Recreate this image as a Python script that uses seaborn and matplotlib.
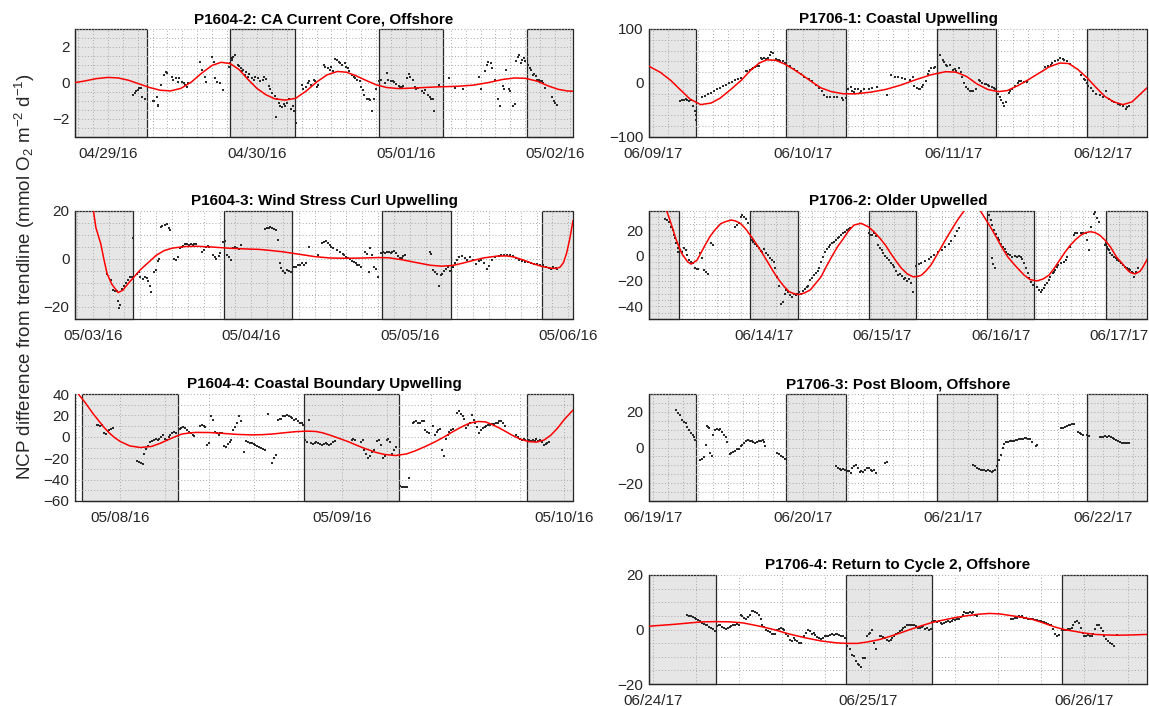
import matplotlib
matplotlib.use("Agg")
import matplotlib.pyplot as plt
import pandas as pd
import seaborn as sns
from matplotlib.ticker import MultipleLocator, FixedLocator, FixedFormatter

sns.set_style("white")
plt.rcParams['font.family'] = ['Liberation Sans', 'DejaVu Sans']
plt.rcParams['mathtext.fontset'] = 'custom'
plt.rcParams['mathtext.rm'] = 'Liberation Sans'
plt.rcParams['mathtext.it'] = 'Liberation Sans:italic'

# ---------------------------------------------------------------------------
# Data: time in days from the first labelled date, NCP anomaly in mmol O2 m-2 d-1
# ---------------------------------------------------------------------------

# P1604-2
p1604_2_dates = ["04/29/16", "04/30/16", "05/01/16", "05/02/16"]
p1604_2_nights = [(-0.22, 0.26), (0.818, 1.257), (1.817, 2.249), (2.814, 3.12)]
p1604_2_obs = [
    (0.17, -0.64), (0.18, -0.55), (0.19, -0.45), (0.20, -0.38), (0.21, -0.30), (0.22, -0.26),
    (0.23, -0.80), (0.25, -0.90), (0.30, -1.00), (0.31, -1.02), (0.33, -0.75), (0.335, -1.20),
    (0.34, -1.30), (0.36, -0.10), (0.38, 0.45), (0.39, 0.62), (0.40, 0.56), (0.43, 0.34),
    (0.44, 0.18), (0.46, 0.29), (0.47, 0.07), (0.48, 0.29), (0.50, 0.07), (0.51, 0.00),
    (0.52, -0.10), (0.53, -0.20), (0.54, 0.00), (0.62, 1.16), (0.63, 0.73), (0.65, 0.34),
    (0.66, 0.07), (0.70, 1.43), (0.71, 1.16), (0.72, 0.29), (0.73, 0.07), (0.75, 0.00),
    (0.77, -0.37), (0.81, 0.90), (0.82, 1.10), (0.83, 1.27), (0.835, 1.38), (0.84, 1.43),
    (0.85, 1.55), (0.87, 1.00), (0.88, 0.95), (0.89, 0.85), (0.90, 0.64), (0.91, 0.75),
    (0.92, 0.45), (0.93, 0.60), (0.94, 0.36), (0.95, 0.50), (0.97, 0.27), (0.98, 0.18),
    (0.99, 0.35), (1.01, 0.30), (1.02, 0.10), (1.04, 0.18), (1.05, 0.36), (1.06, 0.20),
    (1.08, -0.18), (1.09, -0.36), (1.10, -0.55), (1.12, -0.73), (1.13, -1.90), (1.135, -0.90),
    (1.145, -1.10), (1.155, -1.27), (1.165, -1.36), (1.18, -1.18), (1.19, -1.27), (1.20, -1.10),
    (1.215, -0.90), (1.23, -1.45), (1.24, -1.27), (1.25, -1.55), (1.265, -2.20),
    (1.30, -0.09), (1.31, -0.33), (1.33, -0.22), (1.34, 0.00), (1.35, 0.09), (1.36, -0.09),
    (1.38, 0.18), (1.39, 0.09), (1.40, -0.22), (1.41, -0.09), (1.45, 1.00), (1.46, 0.90),
    (1.48, 0.82), (1.49, 0.73), (1.50, 0.90), (1.51, 0.64), (1.525, 1.36), (1.54, 1.27),
    (1.55, 1.18), (1.56, 1.10), (1.57, 1.00), (1.59, 1.10), (1.60, 0.90), (1.61, 0.82),
    (1.62, 0.64), (1.64, 0.45), (1.65, 0.36), (1.66, 0.27), (1.67, 0.18), (1.69, 0.09),
    (1.70, -0.22), (1.71, -0.40), (1.72, -0.64), (1.74, -0.87), (1.75, -0.90), (1.76, -0.95),
    (1.77, -1.55), (1.785, -0.90), (1.80, -0.36),
    (1.82, 0.09), (1.835, 0.18), (1.86, 0.00), (1.87, 0.58), (1.88, 0.18), (1.90, 0.09),
    (1.91, 0.09), (1.92, 0.04), (1.93, -0.04), (1.95, -0.15), (1.96, -0.22), (1.97, -0.22),
    (1.98, -0.15), (2.01, 0.27), (2.02, 0.51), (2.03, 0.36), (2.05, 0.18), (2.06, -0.22),
    (2.07, -0.36), (2.08, -0.27), (2.11, -0.45), (2.12, -0.58), (2.13, -0.40), (2.145, -0.64),
    (2.16, -0.76), (2.17, -0.87), (2.18, -0.90), (2.19, -1.55), (2.22, -0.09),
    (2.29, 0.27), (2.33, -0.27), (2.38, -0.36), (2.49, 0.33), (2.50, -0.36), (2.53, 0.64),
    (2.54, 1.00), (2.55, 1.18), (2.57, 1.10), (2.58, 0.82), (2.60, 0.18), (2.62, -0.90),
    (2.63, -1.30), (2.65, -0.18), (2.66, -0.36), (2.67, 0.73), (2.69, -0.36), (2.70, -0.45),
    (2.72, -1.27), (2.73, -1.18), (2.74, 1.20), (2.75, 1.45), (2.76, 1.55), (2.77, 1.10),
    (2.78, 1.30), (2.79, 1.38), (2.80, 1.20), (2.82, 1.00), (2.83, 0.85), (2.84, 0.73),
    (2.85, 0.45), (2.86, 0.50), (2.87, 0.40), (2.88, 0.18), (2.89, 0.15), (2.90, 0.10),
    (2.91, 0.10), (2.92, 0.00), (2.93, -0.26), (2.98, -0.80), (2.99, -1.00), (3.00, -1.10),
    (3.01, -1.20),
]
p1604_2_fit = [
    (-0.22, 0.02), (-0.15, 0.12), (-0.08, 0.24), (0.0, 0.31), (0.07, 0.28), (0.14, 0.15),
    (0.21, -0.05), (0.28, -0.25), (0.35, -0.40), (0.42, -0.44), (0.49, -0.30), (0.56, 0.05),
    (0.63, 0.55), (0.70, 0.98), (0.76, 1.15), (0.82, 1.08), (0.88, 0.75), (0.94, 0.20),
    (1.0, -0.30), (1.06, -0.65), (1.12, -0.88), (1.19, -0.95), (1.26, -0.85), (1.33, -0.45),
    (1.40, 0.05), (1.47, 0.45), (1.54, 0.64), (1.60, 0.60), (1.66, 0.42), (1.73, 0.15),
    (1.80, -0.10), (1.87, -0.25), (1.95, -0.31), (2.05, -0.28), (2.20, -0.22), (2.35, -0.18),
    (2.45, -0.12), (2.55, 0.02), (2.65, 0.20), (2.73, 0.28), (2.80, 0.26), (2.88, 0.10),
    (2.95, -0.15), (3.02, -0.35), (3.08, -0.44), (3.12, -0.46),
]

# P1706-1
p1706_1_dates = ["06/09/17", "06/10/17", "06/11/17", "06/12/17"]
p1706_1_nights = [(-0.024, 0.288), (0.89, 1.285), (1.89, 2.285), (2.89, 3.29)]
p1706_1_obs = [
    (0.18, -33), (0.195, -31), (0.21, -32), (0.22, -29), (0.23, -31), (0.24, -34), (0.256, -31),
    (0.27, -43), (0.28, -52), (0.29, -69), (0.292, -59),
    (0.33, -26), (0.35, -24), (0.37, -21), (0.39, -18), (0.41, -15), (0.43, -12), (0.45, -9),
    (0.47, -6), (0.49, -3), (0.51, 0), (0.53, 2), (0.55, 5), (0.57, 7), (0.59, 9),
    (0.62, 22), (0.63, 23), (0.65, 25), (0.66, 26), (0.67, 28), (0.68, 29), (0.695, 31), (0.71, 32),
    (0.72, 46), (0.73, 45), (0.74, 46), (0.756, 44), (0.77, 46), (0.78, 52), (0.79, 57), (0.80, 56),
    (0.82, 44), (0.83, 43), (0.84, 43), (0.85, 41), (0.87, 40), (0.88, 37),
    (0.89, 36), (0.915, 31), (0.94, 26), (0.96, 22), (0.99, 17), (1.01, 12), (1.04, 7), (1.06, 3),
    (1.085, -3), (1.11, -9), (1.13, -15), (1.14, -23), (1.16, -26), (1.18, -25), (1.21, -25),
    (1.23, -26), (1.26, -28), (1.27, -31), (1.285, -28),
    (1.30, -11), (1.32, -7), (1.33, -14), (1.34, -17), (1.35, -11), (1.37, -12), (1.38, -19),
    (1.39, -14), (1.41, -12), (1.44, -11), (1.46, -9), (1.49, -7), (1.56, -22), (1.585, 14),
    (1.61, 12), (1.63, 11), (1.66, 10), (1.68, 8), (1.71, 6), (1.73, 11), (1.74, -5), (1.76, -9),
    (1.77, -11), (1.78, -11), (1.79, -7), (1.80, -3), (1.82, 3), (1.83, 17), (1.84, 23),
    (1.85, 28), (1.87, 28), (1.88, 30),
    (1.915, 52), (1.93, 43), (1.94, 38), (1.95, 34), (1.96, 31), (1.98, 34), (2.0, 25), (2.01, 26),
    (2.02, 23), (2.04, 28), (2.05, 20), (2.06, 12), (2.07, 0), (2.085, -7), (2.10, -12),
    (2.11, -14), (2.12, -15), (2.13, -14), (2.15, -11), (2.17, 6), (2.18, 3), (2.195, 0),
    (2.21, -1), (2.22, -1), (2.23, -3), (2.24, -5), (2.26, -7), (2.27, -9), (2.28, -12),
    (2.30, -20), (2.31, -26), (2.32, -31), (2.33, -37), (2.34, -43), (2.35, -36), (2.37, -19),
    (2.38, -14), (2.39, -11), (2.41, -6), (2.43, 0), (2.44, 3), (2.45, 3), (2.47, 2), (2.49, 1),
    (2.61, 30), (2.63, 32), (2.65, 34), (2.66, 37), (2.68, 40), (2.70, 43), (2.71, 46),
    (2.73, 44), (2.74, 43), (2.76, 40), (2.78, 36),
    (2.85, 14), (2.87, 7), (2.88, 5), (2.89, 0), (2.90, -5), (2.915, -9), (2.93, -14),
    (2.95, -20), (2.98, -22), (3.0, -25), (3.02, -15), (3.04, -30), (3.06, -34), (3.07, -36),
    (3.10, -38), (3.11, -40), (3.13, -42), (3.15, -48), (3.16, -44), (3.17, -42),
]
p1706_1_fit = [
    (-0.024, 31), (0.05, 20), (0.12, 5), (0.19, -14), (0.25, -30), (0.32, -40), (0.39, -37),
    (0.45, -28), (0.52, -12), (0.59, 5), (0.65, 23), (0.71, 37), (0.76, 43), (0.82, 42),
    (0.88, 35), (0.94, 25), (1.0, 14), (1.06, 2), (1.12, -9), (1.19, -16), (1.27, -20),
    (1.35, -20), (1.45, -17), (1.55, -12), (1.65, -4), (1.75, 6), (1.85, 15), (1.95, 21),
    (2.02, 20), (2.09, 12), (2.16, -2), (2.23, -12), (2.30, -16), (2.36, -14), (2.43, -5),
    (2.50, 6), (2.57, 18), (2.64, 30), (2.71, 37), (2.77, 36), (2.83, 25), (2.89, 10),
    (2.95, -8), (3.01, -25), (3.07, -35), (3.13, -40), (3.19, -35), (3.24, -22), (3.29, -9),
]

# P1604-3
p1604_3_dates = ["05/03/16", "05/04/16", "05/05/16", "05/06/16"]
p1604_3_nights = [(-0.112, 0.252), (0.829, 1.256), (1.828, 2.26), (2.832, 3.03)]
p1604_3_obs = [
    (0.093, -6.2), (0.117, -8.7), (0.128, -13.0), (0.14, -13.5), (0.15, -13.2), (0.16, -17.6),
    (0.166, -20.3), (0.175, -19.0), (0.187, -12.5), (0.20, -11.1), (0.21, -9.8), (0.22, -8.7),
    (0.233, -7.7), (0.245, -7.3), (0.257, 8.9),
    (0.28, -6.2), (0.29, -5.4), (0.30, -7.6), (0.315, -8.4), (0.327, -7.3), (0.34, -8.1),
    (0.35, -9.3), (0.36, -11.1), (0.37, -13.9), (0.385, -5.4), (0.40, -4.5), (0.41, -0.7),
    (0.42, 0.1), (0.43, 13.3), (0.44, 13.9), (0.455, 14.3), (0.467, 14.7), (0.48, 12.9),
    (0.49, 12.0), (0.51, 0.1), (0.525, -0.4), (0.537, 1.0), (0.55, 4.4), (0.56, 5.1),
    (0.57, 5.6), (0.584, 6.2), (0.595, 6.2), (0.607, 6.0), (0.62, 6.2), (0.63, 6.0),
    (0.64, 6.2), (0.654, 6.3), (0.69, 3.0), (0.70, 3.7), (0.712, 4.8), (0.724, 5.4),
    (0.735, 5.1), (0.76, 1.6), (0.77, 0.7), (0.78, 0.1), (0.794, 1.2), (0.805, 2.3),
    (0.824, 7.0), (0.834, 7.4), (0.845, 1.6), (0.86, 0.7), (0.87, -0.4), (0.887, 4.4),
    (0.90, 5.1), (0.91, 4.5), (0.922, 4.1), (0.934, 5.8), (1.086, 12.6), (1.097, 12.8),
    (1.109, 12.9), (1.12, 13.3), (1.132, 13.0), (1.144, 12.5), (1.156, 12.2), (1.167, 7.8),
    (1.18, -1.8), (1.19, -3.8), (1.202, -4.8), (1.214, -5.9), (1.226, -4.5), (1.237, -4.8),
    (1.25, -5.6),
    (1.27, -3.4), (1.284, -3.2), (1.296, -2.6), (1.307, -2.3), (1.32, -1.8), (1.33, -2.5),
    (1.343, -1.8), (1.366, 4.8), (1.424, 1.6), (1.448, 6.5), (1.46, 7.1), (1.47, 7.3),
    (1.483, 6.7), (1.494, 6.0), (1.506, 5.1), (1.518, 4.4), (1.54, 3.7), (1.56, 3.0),
    (1.576, 2.1), (1.588, 1.6), (1.60, 1.0), (1.61, 0.4), (1.623, -0.1), (1.634, -0.8),
    (1.646, -1.4), (1.658, -1.8), (1.67, -2.3), (1.68, -2.7), (1.693, -3.2), (1.716, 3.0),
    (1.728, 2.1), (1.74, -5.5), (1.75, 4.4), (1.763, 1.6), (1.774, -3.4), (1.786, -4.3),
    (1.80, -7.6),
    (1.82, 2.6), (1.833, 2.9), (1.845, 2.7), (1.856, 3.0), (1.868, 2.9), (1.88, 2.7),
    (1.89, 3.0), (1.903, 3.2), (1.915, 2.6), (1.926, 1.2), (1.938, 0.3), (1.95, 0.5),
    (1.96, 1.2), (1.973, 1.8), (2.125, 3.0), (2.136, 2.1), (2.148, -4.5), (2.16, -5.6),
    (2.171, -6.2), (2.183, -11.4), (2.195, -6.5), (2.206, -6.2), (2.218, -4.8), (2.23, -4.0),
    (2.241, -3.4), (2.253, -4.8),
    (2.27, -3.4), (2.283, -1.8), (2.297, -0.4), (2.31, 0.7), (2.33, 1.2), (2.346, 0.3),
    (2.363, -0.4), (2.38, 0.7), (2.40, -0.4), (2.42, -2.1), (2.437, -0.7), (2.45, -0.4),
    (2.47, -1.8), (2.49, -4.0), (2.503, -2.9), (2.52, -0.4), (2.54, 0.7), (2.56, 1.2),
    (2.578, 1.6), (2.596, 1.8), (2.615, 1.8), (2.634, 1.6), (2.652, 1.2), (2.67, 0.5),
    (2.69, -0.4), (2.708, -0.8), (2.727, -1.1), (2.746, -1.4), (2.764, -1.8), (2.783, -2.1),
    (2.80, -2.2), (2.82, -2.5), (2.84, -2.7), (2.858, -3.2), (2.876, -3.8), (2.89, -4.3),
    (2.904, -3.4), (2.92, -3.8), (2.932, -4.3),
]
p1604_3_fit = [
    (0.0, 22.0), (0.02, 13.0), (0.05, 6.5), (0.07, 0.0), (0.09, -6.0), (0.12, -10.5),
    (0.16, -14.0), (0.19, -13.0), (0.22, -10.5), (0.26, -7.5), (0.30, -4.5), (0.35, -1.5),
    (0.40, 1.5), (0.45, 3.5), (0.50, 4.5), (0.58, 5.2), (0.66, 5.3), (0.75, 5.0), (0.86, 4.5),
    (0.96, 4.2), (1.05, 4.0), (1.13, 3.5), (1.20, 3.0), (1.30, 2.0), (1.40, 1.0), (1.50, 0.4),
    (1.60, 0.3), (1.70, 0.4), (1.80, 0.6), (1.87, 0.5), (1.95, -0.3), (2.05, -1.6),
    (2.13, -2.6), (2.20, -3.0), (2.27, -2.7), (2.33, -1.8), (2.40, -0.6), (2.47, 0.5),
    (2.55, 1.2), (2.61, 1.3), (2.66, 0.8), (2.72, -0.5), (2.78, -2.0), (2.84, -3.2),
    (2.90, -3.9), (2.93, -3.9), (2.95, -3.3), (2.97, -1.5), (2.99, 2.5), (3.01, 8.5),
    (3.03, 16.0),
]

# P1706-2
p1706_2_dates = ["06/14/17", "06/15/17", "06/16/17", "06/17/17"]
p1706_2_nights = [(-0.977, -0.723), (-0.118, 0.285), (0.884, 1.281), (1.883, 2.284), (2.889, 3.24)]
p1706_2_obs = [
    (-0.838, 28.4), (-0.822, 27.9), (-0.807, 26.6), (-0.79, 22.6), (-0.776, 20.0), (-0.766, 16.0),
    (-0.754, 13.4), (-0.745, 9.5), (-0.735, 5.5), (-0.73, 2.9), (-0.714, 4.2), (-0.698, 2.9),
    (-0.683, 5.5), (-0.667, 4.2), (-0.652, 0.3), (-0.636, -3.7), (-0.62, -5.0), (-0.605, -6.3),
    (-0.59, -9.5), (-0.574, -11.0), (-0.558, -10.3), (-0.543, 1.6), (-0.527, -1.6),
    (-0.512, -11.6), (-0.496, -13.2), (-0.48, -14.2), (-0.45, 9.5), (-0.434, 8.2),
    (-0.248, 22.6), (-0.233, 24.0), (-0.217, 25.8), (-0.20, 30.5), (-0.186, 31.8),
    (-0.17, 30.5), (-0.155, 28.4), (-0.14, 25.3),
    (-0.109, 12.1), (-0.093, 10.8), (-0.078, 8.9), (-0.062, 7.4), (-0.047, 5.5), (-0.031, 3.7),
    (-0.016, 2.9), (0.0, 4.7), (0.016, 1.6), (0.031, 0.0), (0.047, -1.6), (0.062, -3.2),
    (0.078, -5.0), (0.093, -9.5), (0.109, -16.8), (0.124, -24.2), (0.14, -37.9), (0.155, -36.6),
    (0.171, -30.0), (0.186, -27.4), (0.20, -28.7), (0.217, -31.3), (0.233, -32.6),
    (0.248, -30.0), (0.264, -31.3), (0.28, -30.0),
    (0.295, -28.9), (0.31, -30.0), (0.326, -27.9), (0.341, -26.3), (0.357, -24.7),
    (0.372, -24.2), (0.388, -19.5), (0.403, -17.4), (0.419, -15.5), (0.434, -13.7),
    (0.45, -12.1), (0.465, -9.5), (0.48, -5.0), (0.496, -1.1), (0.512, 2.9), (0.527, 4.7),
    (0.543, 6.8), (0.558, 8.2), (0.574, 9.5), (0.59, 10.8), (0.605, 12.1), (0.62, 13.4),
    (0.636, 14.7), (0.652, 16.0), (0.667, 17.4), (0.683, 18.7), (0.698, 20.0), (0.714, 21.0),
    (0.729, 21.8),
    (0.884, 17.4), (0.90, 15.8), (0.915, 16.0), (0.93, 17.4), (0.946, 15.3), (0.96, 8.2),
    (0.977, 5.5), (0.993, 4.2), (1.008, 1.6), (1.024, -0.5), (1.04, -2.1), (1.055, -3.7),
    (1.07, -5.8), (1.086, -7.6), (1.10, -8.9), (1.117, -12.1), (1.133, -15.0), (1.148, -14.2),
    (1.164, -16.3), (1.18, -18.4), (1.195, -17.4), (1.21, -20.0), (1.226, -18.9),
    (1.24, -21.6), (1.257, -28.7),
    (1.285, -8.0), (1.31, -7.0), (1.33, -6.0), (1.36, -4.5), (1.39, -3.0), (1.41, -1.5),
    (1.44, 0.5), (1.47, 2.5), (1.50, 4.5), (1.53, 6.5), (1.56, 9.0), (1.58, 11.5),
    (1.61, 15.0), (1.63, 19.0), (1.65, 21.5),
    (1.90, 32.0), (1.915, 28.0), (1.93, 24.0), (1.945, 20.0), (1.96, 17.0), (1.975, 14.0),
    (1.99, 12.0), (2.005, 9.0), (2.02, 7.0), (2.035, 5.0), (2.05, 2.5), (2.065, 1.0),
    (2.08, 0.0), (2.10, -1.0), (2.12, -0.5), (2.14, -1.0), (2.155, -0.5), (2.17, -1.5),
    (2.185, -3.0), (2.20, -6.0), (2.215, -10.0), (2.23, -14.0), (2.245, -18.0), (2.26, -21.0),
    (2.275, -23.0), (1.925, -2.0), (1.94, -7.0), (1.955, -10.0),
    (2.31, -24.5), (2.325, -27.2), (2.34, -28.5), (2.35, -27.2), (2.37, -25.8), (2.38, -23.2),
    (2.395, -21.9), (2.41, -19.3), (2.42, -16.7), (2.44, -14.1), (2.45, -12.8), (2.465, -11.5),
    (2.48, -8.8), (2.49, -7.5), (2.51, -6.2), (2.54, -4.9), (2.55, -3.5), (2.56, -0.9),
    (2.59, 6.9), (2.62, 16.1), (2.63, 17.4), (2.65, 17.4), (2.68, 17.4), (2.70, 17.4),
    (2.72, 18.0), (2.73, 12.2), (2.75, 4.3), (2.77, 22.7), (2.79, 33.0), (2.80, 34.5),
    (2.82, 29.3), (2.83, 26.6),
    (2.887, 8.6), (2.895, 9.5), (2.90, 6.9), (2.91, 5.0), (2.915, 4.3), (2.93, 1.7),
    (2.945, 0.5), (2.96, -0.9), (2.975, -2.0), (2.99, -3.5), (3.005, -4.5), (3.02, -6.2),
    (3.04, -7.5), (3.055, -9.0), (3.07, -10.1), (3.085, -11.0), (3.10, -11.5), (3.115, -13.0),
    (3.12, -14.1), (3.13, -16.7), (3.15, -12.7), (3.16, -10.1),
]
p1706_2_fit = [
    (-0.83, 36.0), (-0.79, 25.0), (-0.745, 12.0), (-0.70, 1.6), (-0.65, -5.0), (-0.62, -6.8),
    (-0.57, -3.7), (-0.51, 6.8), (-0.46, 15.0), (-0.42, 20.0), (-0.37, 25.0), (-0.33, 26.6),
    (-0.28, 27.9), (-0.24, 27.0), (-0.20, 25.0), (-0.155, 20.5), (-0.11, 14.7), (-0.06, 8.0),
    (-0.016, 1.6), (0.03, -5.5), (0.078, -12.9), (0.125, -19.5), (0.17, -24.7), (0.21, -28.5),
    (0.25, -30.0), (0.29, -30.8), (0.34, -29.5), (0.39, -27.0), (0.43, -22.5), (0.48, -16.8),
    (0.52, -9.5), (0.57, -1.0), (0.62, 7.0), (0.67, 13.4), (0.71, 19.0), (0.76, 24.0),
    (0.82, 25.3), (0.88, 22.6), (0.93, 18.5), (0.98, 13.4), (1.03, 7.5), (1.07, 1.6),
    (1.12, -5.0), (1.16, -10.0), (1.21, -14.5), (1.26, -16.8), (1.30, -16.5), (1.33, -15.5),
    (1.37, -12.0), (1.41, -7.6), (1.455, -0.5), (1.50, 6.8), (1.55, 15.0), (1.60, 22.6),
    (1.64, 28.5), (1.69, 35.0), (1.76, 39.0), (1.83, 35.0), (1.87, 29.0), (1.92, 21.5),
    (1.97, 13.4), (2.01, 6.5), (2.06, -1.0), (2.11, -6.5), (2.16, -11.6), (2.20, -15.5),
    (2.25, -19.0), (2.31, -20.0), (2.36, -18.5), (2.41, -15.5), (2.455, -10.0), (2.50, -3.7),
    (2.545, 2.5), (2.59, 8.0), (2.635, 12.5), (2.68, 16.0), (2.72, 18.0), (2.76, 18.7),
    (2.80, 18.0), (2.84, 16.0), (2.885, 12.0), (2.93, 6.8), (2.98, -1.0), (3.03, -6.3),
    (3.07, -11.0), (3.10, -13.5), (3.14, -14.5), (3.18, -12.5), (3.20, -10.0), (3.23, -5.0),
    (3.26, 0.0),
]

# P1604-4
p1604_4_dates = ["05/08/16", "05/09/16", "05/10/16"]
p1604_4_nights = [(-0.172, 0.258), (0.828, 1.255), (1.833, 2.04)]
p1604_4_obs = [
    (-0.108, 11.1), (-0.10, 11.1), (-0.092, 10.5), (-0.083, 11.1), (-0.075, 3.2), (-0.067, 2.2),
    (-0.058, 5.7), (-0.05, 6.3), (-0.042, 7.6), (-0.033, 7.9), (0.075, -22.9), (0.083, -23.8),
    (0.092, -24.8), (0.10, -25.4), (0.108, -16.5), (0.117, -11.4), (0.125, -8.3), (0.133, -5.1),
    (0.142, -4.1), (0.15, -3.2), (0.158, -1.9), (0.167, -3.2), (0.175, -1.6), (0.183, 0.0),
    (0.192, 1.3), (0.20, -1.6), (0.208, -3.2), (0.217, -0.6), (0.225, 1.3), (0.233, 3.2),
    (0.242, 4.4), (0.25, 3.8),
    (0.267, 7.0), (0.275, 7.9), (0.283, 8.9), (0.292, 7.9), (0.30, 6.3), (0.308, 4.4),
    (0.317, 3.2), (0.325, 1.3), (0.333, 0.6), (0.358, 10.2), (0.367, 11.1), (0.375, 10.2),
    (0.383, 9.2), (0.392, -7.9), (0.40, -5.7), (0.408, 19.0), (0.417, 15.9), (0.425, 4.8),
    (0.433, 3.2), (0.442, 1.9), (0.45, 3.8), (0.458, 3.2), (0.467, -8.3), (0.475, -9.5),
    (0.483, -6.3), (0.492, -4.8), (0.50, -3.2), (0.508, 6.3), (0.517, 9.5), (0.525, 12.7),
    (0.533, 19.0), (0.542, 15.2), (0.558, -14.0), (0.567, -3.8), (0.575, -4.4), (0.583, -5.4),
    (0.592, -6.0), (0.60, -7.0), (0.608, -7.9), (0.617, -8.9), (0.625, -9.8), (0.633, -10.5),
    (0.642, -11.4), (0.65, -12.7), (0.667, 21.3), (0.683, -24.8), (0.692, -19.7),
    (0.70, -16.8), (0.708, 15.9), (0.717, 16.5), (0.725, 17.1), (0.733, 19.0), (0.742, 19.7),
    (0.75, 20.3), (0.758, 19.0), (0.767, 18.4), (0.775, 17.5), (0.783, 15.9), (0.792, 16.5),
    (0.80, 14.3), (0.808, 12.7), (0.817, 13.3), (0.825, 11.1),
    (0.833, -3.2), (0.842, -4.8), (0.85, 15.9), (0.858, -5.7), (0.867, -7.0), (0.875, -5.7),
    (0.883, -4.4), (0.892, -5.7), (0.90, -7.0), (0.908, -7.6), (0.917, -6.3), (0.925, -5.7),
    (0.933, -6.7), (0.942, -7.6), (0.95, -6.3), (0.958, -4.8), (0.967, -3.8), (1.042, -3.2),
    (1.05, -1.6), (1.058, -3.2), (1.083, -4.8), (1.092, -3.2), (1.10, -12.7), (1.108, -15.9),
    (1.117, -19.7), (1.125, -17.8), (1.133, -14.3), (1.142, -12.1), (1.158, -3.8),
    (1.167, -3.2), (1.175, -7.9), (1.183, -19.7), (1.192, -17.5), (1.20, -3.2), (1.208, -1.6),
    (1.217, -4.8), (1.225, -15.9), (1.233, -12.7), (1.242, -9.5),
    (1.258, -46.3), (1.267, -47.0), (1.275, -46.7), (1.283, -47.0), (1.292, -47.0),
    (1.30, -38.1), (1.317, 12.7), (1.325, 13.7), (1.333, 14.3), (1.342, 13.3), (1.35, 12.7),
    (1.358, 14.3), (1.367, 15.2), (1.375, 6.3), (1.383, 4.4), (1.392, 3.2), (1.408, 10.2),
    (1.417, 1.6), (1.425, 4.4), (1.433, 6.3), (1.442, 7.0), (1.45, -12.7), (1.458, -17.5),
    (1.467, -1.6), (1.475, 1.6), (1.483, 4.4), (1.492, 6.3), (1.50, 7.6), (1.517, 22.2),
    (1.525, 24.1), (1.533, 21.3), (1.542, 19.0), (1.55, 17.1), (1.558, 7.9), (1.567, 11.1),
    (1.575, 12.7), (1.583, 20.6), (1.592, 15.9), (1.60, 12.7), (1.608, 9.5), (1.617, 3.2),
    (1.625, 6.3), (1.633, 7.9), (1.642, 8.9), (1.65, 10.2), (1.658, 10.8), (1.667, 11.1),
    (1.675, 12.1), (1.683, 12.1), (1.692, 12.7), (1.70, 13.3), (1.708, 14.3), (1.717, 15.2),
    (1.725, 12.7), (1.733, 10.2), (1.783, 1.6), (1.792, 0.0), (1.80, -1.6), (1.808, -3.2),
    (1.817, -2.2), (1.825, -3.2),
    (1.842, -3.2), (1.85, -3.8), (1.858, -3.2), (1.867, -3.8), (1.875, -2.5), (1.883, -3.8),
    (1.892, -3.2), (1.90, -4.8), (1.908, -7.9), (1.917, -7.0), (1.925, -5.7), (1.933, -4.8),
]
p1604_4_fit = [
    (-0.19, 40.0), (-0.158, 31.7), (-0.125, 22.0), (-0.10, 15.5), (-0.075, 9.0), (-0.05, 3.5),
    (-0.025, -1.0), (0.0, -4.5), (0.042, -8.5), (0.09, -10.0), (0.14, -9.0), (0.18, -6.0),
    (0.21, -3.2), (0.245, 0.0), (0.275, 2.5), (0.31, 3.6), (0.34, 4.1), (0.40, 4.0),
    (0.46, 3.2), (0.53, 2.2), (0.59, 1.8), (0.64, 2.0), (0.69, 2.7), (0.74, 3.8), (0.79, 4.8),
    (0.84, 5.3), (0.88, 5.0), (0.91, 3.8), (0.95, 1.2), (0.99, -1.8), (1.03, -4.8),
    (1.06, -7.5), (1.10, -10.8), (1.15, -14.5), (1.19, -16.5), (1.24, -17.5), (1.29, -16.0),
    (1.33, -13.0), (1.375, -9.0), (1.42, -4.5), (1.46, 0.0), (1.50, 5.0), (1.54, 9.5),
    (1.575, 12.8), (1.61, 14.3), (1.645, 14.0), (1.675, 11.5), (1.71, 8.0), (1.74, 4.5),
    (1.77, 1.0), (1.80, -2.0), (1.84, -4.5), (1.875, -5.0), (1.91, -3.0), (1.94, 1.5),
    (1.97, 8.0), (2.00, 16.0), (2.04, 25.0),
]

# P1706-3 (no fitted curve)
p1706_3_dates = ["06/19/17", "06/20/17", "06/21/17", "06/22/17"]
p1706_3_nights = [(-0.024, 0.288), (0.89, 1.285), (1.89, 2.293), (2.89, 3.29)]
p1706_3_obs = [
    (0.159, 20.9), (0.171, 19.1), (0.183, 18.0), (0.195, 15.7), (0.207, 14.4), (0.22, 13.5),
    (0.232, 11.7), (0.244, 9.8), (0.256, 8.0), (0.268, 7.0), (0.276, 6.1), (0.283, 4.3),
    (0.317, -6.8), (0.329, -6.5), (0.341, -5.4), (0.354, 1.5), (0.361, 12.0), (0.371, 11.7),
    (0.378, 10.7), (0.385, -3.1), (0.395, -4.6), (0.402, 7.0), (0.415, 9.8), (0.427, 10.2),
    (0.439, 9.8), (0.451, 10.6), (0.463, 8.9), (0.476, 7.0), (0.488, 5.7), (0.495, 3.3),
    (0.512, -3.5), (0.524, -3.1), (0.537, -2.4), (0.549, -1.7), (0.561, -1.1), (0.573, -0.6),
    (0.585, 0.6), (0.598, 1.5), (0.61, 2.8), (0.622, 3.9), (0.634, 4.3), (0.646, 3.9),
    (0.659, 3.5), (0.671, 3.3), (0.683, 2.8), (0.695, 3.1), (0.707, 3.5), (0.72, 3.9),
    (0.732, 4.3), (0.744, 3.1), (0.751, 0.9), (0.829, -3.1), (0.841, -3.9), (0.854, -4.6),
    (0.866, -5.4), (0.878, -6.5),
    (1.22, -10.6), (1.232, -11.5), (1.244, -11.9), (1.256, -12.4), (1.268, -12.0),
    (1.28, -12.4), (1.293, -13.0), (1.305, -13.3), (1.317, -14.3), (1.329, -11.7),
    (1.341, -10.6), (1.354, -9.8), (1.366, -11.7), (1.378, -13.9), (1.39, -13.1),
    (1.402, -13.9), (1.415, -12.4), (1.427, -11.7), (1.439, -11.3), (1.451, -12.4),
    (1.463, -13.1), (1.476, -12.4), (1.488, -14.3), (1.549, -8.7), (1.561, -8.3),
    (2.134, -9.6), (2.146, -10.6), (2.159, -11.5), (2.171, -12.0), (2.183, -12.4),
    (2.195, -12.8), (2.207, -12.4), (2.22, -13.3), (2.232, -12.8), (2.244, -13.3),
    (2.256, -13.9), (2.268, -13.3), (2.28, -12.4), (2.293, -10.6), (2.305, -6.9),
    (2.317, -4.1), (2.329, -0.4), (2.341, 2.0), (2.354, 3.1), (2.366, 3.3), (2.378, 3.5),
    (2.39, 3.7), (2.402, 3.9), (2.415, 4.3), (2.427, 4.4), (2.439, 4.6), (2.451, 4.8),
    (2.463, 5.0), (2.476, 5.2), (2.488, 5.2), (2.50, 5.0), (2.512, 4.6), (2.524, 3.3),
    (2.549, 0.6), (2.556, 1.5),
    (2.72, 10.7), (2.732, 11.1), (2.744, 11.5), (2.756, 11.9), (2.768, 12.4), (2.78, 12.8),
    (2.793, 13.1), (2.805, 13.3), (2.829, 8.9), (2.841, 8.0), (2.854, 7.4), (2.866, 7.0),
    (2.89, 6.9), (2.902, 6.5),
    (2.976, 6.1), (2.988, 5.7), (3.0, 5.9), (3.012, 6.3), (3.024, 6.1), (3.037, 6.5),
    (3.049, 6.1), (3.061, 5.4), (3.073, 4.8), (3.085, 4.3), (3.098, 3.5), (3.11, 3.0),
    (3.122, 2.8), (3.134, 2.6), (3.146, 2.6), (3.159, 2.6), (3.171, 2.6),
]
p1706_3_fit = []

# P1706-4
p1706_4_dates = ["06/24/17", "06/25/17", "06/26/17"]
p1706_4_nights = [(-0.017, 0.293), (0.895, 1.292), (1.895, 2.29)]
p1706_4_obs = [
    (0.161, 5.5), (0.169, 5.1), (0.178, 4.9), (0.186, 4.6), (0.195, 4.3), (0.203, 3.9),
    (0.212, 3.4), (0.22, 3.1), (0.229, 2.4), (0.237, 2.2), (0.246, 1.8), (0.254, 1.5),
    (0.263, 1.0), (0.271, 0.6), (0.28, 0.2), (0.288, -0.6),
    (0.297, 1.2), (0.305, 1.8), (0.314, 1.5), (0.322, 1.0), (0.331, 0.6), (0.339, 0.2),
    (0.347, 0.6), (0.356, 1.0), (0.364, 1.2), (0.373, 1.5), (0.381, 1.8), (0.39, 2.2),
    (0.398, 1.5), (0.407, 5.5), (0.415, 4.9), (0.424, 4.3), (0.432, 3.9), (0.441, 4.6),
    (0.449, 5.5), (0.458, 6.7), (0.466, 6.7), (0.475, 6.4), (0.483, 6.1), (0.492, 5.5),
    (0.50, 3.7), (0.508, 1.8), (0.517, 1.0), (0.525, 0.0), (0.534, -0.6), (0.542, -1.0),
    (0.551, -1.5), (0.559, -1.8), (0.568, -1.5), (0.576, -0.2), (0.585, 0.2), (0.593, 0.6),
    (0.602, 0.2), (0.61, 0.0), (0.619, -1.8), (0.627, -2.4), (0.636, -3.7), (0.644, -4.3),
    (0.653, -3.1), (0.661, -3.7), (0.669, -4.3), (0.678, -5.1), (0.686, -4.9), (0.703, -2.4),
    (0.712, -1.2), (0.72, 0.0), (0.729, -0.6), (0.737, -1.8), (0.746, -1.2), (0.754, -2.2),
    (0.763, -2.7), (0.771, -3.1), (0.78, -3.4), (0.788, -3.1), (0.797, -2.4), (0.805, -2.4),
    (0.814, -2.4), (0.822, -2.2), (0.831, -1.8), (0.839, -2.1), (0.847, -1.8), (0.856, -1.8),
    (0.864, -2.2), (0.873, -2.4), (0.881, -2.4), (0.89, -3.1),
    (0.898, -6.1), (0.915, -7.3), (0.924, -9.2), (0.932, -9.8), (0.941, -11.6), (0.949, -12.8),
    (0.958, -13.2), (0.966, -13.7), (0.975, -10.4), (0.983, -10.4), (0.992, -2.4), (1.0, -1.8),
    (1.008, -1.2), (1.017, 0.0), (1.025, -4.9), (1.034, -7.3), (1.051, -2.4), (1.059, -2.4),
    (1.068, -2.7), (1.076, -3.1), (1.085, -3.7), (1.093, -4.3), (1.102, -3.7), (1.11, -3.1),
    (1.119, -2.4), (1.127, -1.8), (1.136, -1.2), (1.144, -0.6), (1.153, 0.0), (1.161, 0.6),
    (1.169, 1.0), (1.178, 1.5), (1.186, 1.8), (1.195, 1.5), (1.203, 1.8), (1.212, 1.5),
    (1.22, 1.2), (1.229, 0.6), (1.237, 0.6), (1.246, 1.0), (1.254, 1.2), (1.263, 0.2),
    (1.271, 0.6), (1.28, 0.0), (1.288, 0.2),
    (1.292, 2.7), (1.30, 3.1), (1.308, 3.1), (1.317, 2.7), (1.325, 3.1), (1.334, 2.4),
    (1.342, 2.2), (1.351, 2.4), (1.359, 2.7), (1.368, 3.1), (1.376, 2.7), (1.385, 3.1),
    (1.393, 3.7), (1.402, 3.4), (1.41, 3.9), (1.419, 3.7), (1.427, 4.6), (1.436, 5.5),
    (1.444, 6.4), (1.453, 5.9), (1.461, 6.1), (1.469, 6.4), (1.478, 5.9), (1.486, 6.4),
    (1.495, 5.5), (1.503, 5.1),
    (1.661, 3.7), (1.669, 3.9), (1.678, 4.3), (1.686, 4.3), (1.695, 4.9), (1.703, 4.6),
    (1.712, 4.9), (1.72, 4.3), (1.729, 4.3), (1.737, 3.9), (1.746, 3.7), (1.754, 3.9),
    (1.763, 3.7), (1.771, 3.4), (1.78, 3.4), (1.788, 3.1), (1.797, 3.1), (1.805, 2.7),
    (1.814, 2.7), (1.822, 2.4), (1.831, 2.2), (1.839, 1.8), (1.847, 1.5), (1.856, 0.2),
    (1.864, -1.8), (1.873, -2.4), (1.881, -2.2),
    (1.898, -0.2), (1.907, 0.0), (1.915, -0.2), (1.924, 0.2), (1.932, 0.2), (1.941, 0.6),
    (1.949, 1.8), (1.958, 2.7), (1.966, 3.1), (1.975, 2.4), (1.983, 0.6), (1.992, -1.2),
    (2.0, -2.4), (2.008, -2.4), (2.017, -2.2), (2.025, -2.4), (2.034, -2.4), (2.042, -1.8),
    (2.051, 0.2), (2.059, 1.8), (2.068, 1.5), (2.076, 0.6), (2.085, -0.6), (2.093, -2.4),
    (2.102, -3.4), (2.11, -4.3), (2.119, -4.9), (2.127, -5.5), (2.136, -5.9), (2.153, -2.2),
]
p1706_4_fit = [
    (-0.017, 1.2), (0.10, 1.9), (0.17, 2.4), (0.23, 2.8), (0.29, 2.9), (0.36, 2.8),
    (0.42, 2.4), (0.49, 1.3), (0.56, 0.0), (0.63, -1.6), (0.71, -3.1), (0.78, -4.2),
    (0.85, -4.9), (0.90, -5.1), (0.95, -5.1), (1.00, -4.5), (1.05, -3.7), (1.10, -2.5),
    (1.15, -1.2), (1.20, 0.2), (1.25, 1.5), (1.30, 2.7), (1.36, 3.7), (1.41, 4.5),
    (1.46, 5.1), (1.51, 5.6), (1.56, 5.9), (1.61, 5.7), (1.66, 5.1), (1.71, 4.5),
    (1.76, 3.7), (1.81, 2.4), (1.86, 1.0), (1.91, -0.1), (1.95, -0.6), (2.00, -1.3),
    (2.05, -1.8), (2.10, -2.0), (2.15, -2.1), (2.22, -2.0), (2.29, -1.8),
]

# ---------------------------------------------------------------------------
# Panel layout (axes rectangles in pixels of a 1149x706 canvas) and axis settings
# ---------------------------------------------------------------------------
FIG_W, FIG_H = 1149, 706
LEFT_X, RIGHT_X, AX_W = 75, 649, 498
ROWS = [(29, 137), (211, 319), (394, 501), (575, 684)]

panels = [
    dict(title="P1604-2: CA Current Core, Offshore", col=LEFT_X, row=0,
         obs=p1604_2_obs, fit=p1604_2_fit, nights=p1604_2_nights, dates=p1604_2_dates,
         xlim=(-0.22, 3.12), ylim=(-3, 3), yticks=[-2, 0, 2], yminor=0.5, xminor=0.1),
    dict(title="P1706-1: Coastal Upwelling", col=RIGHT_X, row=0,
         obs=p1706_1_obs, fit=p1706_1_fit, nights=p1706_1_nights, dates=p1706_1_dates,
         xlim=(-0.024, 3.29), ylim=(-100, 100), yticks=[-100, 0, 100], yminor=20, xminor=0.1),
    dict(title="P1604-3: Wind Stress Curl Upwelling", col=LEFT_X, row=1,
         obs=p1604_3_obs, fit=p1604_3_fit, nights=p1604_3_nights, dates=p1604_3_dates,
         xlim=(-0.112, 3.03), ylim=(-25, 20), yticks=[-20, 0, 20], yminor=5, xminor=0.1),
    dict(title="P1706-2: Older Upwelled", col=RIGHT_X, row=1,
         obs=p1706_2_obs, fit=p1706_2_fit, nights=p1706_2_nights, dates=p1706_2_dates,
         xlim=(-0.977, 3.24), ylim=(-50, 35), yticks=[-40, -20, 0, 20], yminor=5, xminor=0.1),
    dict(title="P1604-4: Coastal Boundary Upwelling", col=LEFT_X, row=2,
         obs=p1604_4_obs, fit=p1604_4_fit, nights=p1604_4_nights, dates=p1604_4_dates,
         xlim=(-0.205, 2.04), ylim=(-60, 40), yticks=[-60, -40, -20, 0, 20, 40], yminor=10,
         xminor=0.2),
    dict(title="P1706-3: Post Bloom, Offshore", col=RIGHT_X, row=2,
         obs=p1706_3_obs, fit=p1706_3_fit, nights=p1706_3_nights, dates=p1706_3_dates,
         xlim=(-0.024, 3.29), ylim=(-30, 30), yticks=[-20, 0, 20], yminor=5, xminor=0.1),
    dict(title="P1706-4: Return to Cycle 2, Offshore", col=RIGHT_X, row=3,
         obs=p1706_4_obs, fit=p1706_4_fit, nights=p1706_4_nights, dates=p1706_4_dates,
         xlim=(-0.017, 2.29), ylim=(-20, 20), yticks=[-20, 0, 20], yminor=5, xminor=0.2),
]

INK = "#262626"
NIGHT_FILL = "#e6e6e6"
GRID = "#a8a8a8"

fig = plt.figure(figsize=(FIG_W / 100, FIG_H / 100), dpi=100)

for p in panels:
    top, bottom = ROWS[p["row"]]
    rect = [p["col"] / FIG_W, 1 - bottom / FIG_H, AX_W / FIG_W, (bottom - top) / FIG_H]
    ax = fig.add_axes(rect)
    ax.set_axisbelow("line")

    x0, x1 = p["xlim"]
    # night periods
    for a, b in p["nights"]:
        ax.axvspan(max(a, x0), min(b, x1), facecolor=NIGHT_FILL, edgecolor=INK,
                   linewidth=0.9, zorder=1, clip_on=False)

    obs = pd.DataFrame(p["obs"], columns=["day", "ncp"])
    sns.scatterplot(data=obs, x="day", y="ncp", ax=ax, color="#2a2a2a", marker="s",
                    s=3, linewidth=0, zorder=3, legend=False)
    if p["fit"]:
        fit = pd.DataFrame(p["fit"], columns=["day", "ncp"])
        sns.lineplot(data=fit, x="day", y="ncp", ax=ax, color="red", linewidth=1.1,
                     sort=False, estimator=None, zorder=4, legend=False)

    ax.set_xlim(x0, x1)
    ax.set_ylim(*p["ylim"])
    ax.xaxis.set_major_locator(FixedLocator(list(range(len(p["dates"])))))
    ax.xaxis.set_major_formatter(FixedFormatter(p["dates"]))
    ax.xaxis.set_minor_locator(MultipleLocator(p["xminor"]))
    ax.set_yticks(p["yticks"])
    ax.yaxis.set_minor_locator(MultipleLocator(p["yminor"]))

    ax.grid(True, which="both", color=GRID, linestyle=(0, (1, 2.2)), linewidth=0.7)
    ax.tick_params(which="major", direction="in", length=3, width=0.8, color=INK,
                   labelsize=11, labelcolor=INK)
    ax.tick_params(axis="x", which="major", pad=7)
    ax.tick_params(axis="y", which="major", pad=4)
    ax.tick_params(which="minor", length=0)

    sns.despine(ax=ax)
    for side in ("left", "bottom"):
        ax.spines[side].set_color(INK)
        ax.spines[side].set_linewidth(0.9)

    ax.set_xlabel("")
    ax.set_ylabel("")
    ax.set_title(p["title"], fontsize=11, fontweight="bold", pad=4, color="black")

fig.text(25 / FIG_W, 1 - 277 / FIG_H,
         "NCP difference from trendline (mmol O$_2$ m$^{-2}$ d$^{-1}$)",
         rotation=90, ha="center", va="center", fontsize=13.5, color=INK)

fig.savefig("out.png", dpi=100)
